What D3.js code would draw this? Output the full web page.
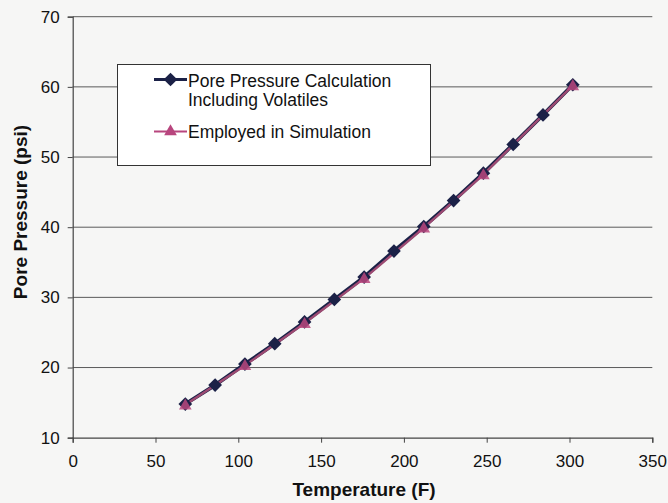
<!DOCTYPE html>
<html>
<head>
<meta charset="utf-8">
<script src="https://cdn.jsdelivr.net/npm/d3@7"></script>
<style>
  html, body { margin: 0; padding: 0; background: #f6f6f5; }
  svg { display: block; }
  text { font-family: "Liberation Sans", Arial, sans-serif; fill: #111; }
</style>
</head>
<body>
<svg id="chart" width="668" height="503"></svg>
<script>
// Data
const temperatures = [68, 86, 104, 122, 140, 158, 176, 194, 212, 230, 248, 266, 284, 302];
const porePressureVolatiles = [14.8, 17.5, 20.5, 23.4, 26.5, 29.7, 32.9, 36.6, 40.1, 43.8, 47.7, 51.8, 56.0, 60.3];
const simTemperatures = [68, 104, 140, 176, 212, 248, 302];
const simPressure = [14.7, 20.3, 26.3, 32.7, 39.9, 47.5, 60.2];
const xTicks = [0, 50, 100, 150, 200, 250, 300, 350];
const yTicks = [10, 20, 30, 40, 50, 60, 70];
const seriesNames = ["Pore Pressure Calculation|Including Volatiles", "Employed in Simulation"];

const svg = d3.select("#chart");
const x = d3.scaleLinear().domain([0, 350]).range([72.7, 652.3]);
const y = d3.scaleLinear().domain([10, 70]).range([437.7, 16.7]);

const darkColor = "#1b2147";
const pinkColor = "#b8467e";

// gridlines
svg.append("g").selectAll("line").data(yTicks.filter(d => d > 10)).join("line")
  .attr("x1", x(0)).attr("x2", x(350))
  .attr("y1", d => y(d)).attr("y2", d => y(d))
  .attr("stroke", "#5a5a5a").attr("stroke-width", 1);

// axes
const xAxis = svg.append("g").attr("transform", `translate(0,${y(10)})`)
  .call(d3.axisBottom(x).tickValues(xTicks).tickSize(5).tickPadding(12).tickFormat(d3.format("d")));
const yAxis = svg.append("g").attr("transform", `translate(${x(0)},0)`)
  .call(d3.axisLeft(y).tickValues(yTicks).tickSize(5).tickPadding(8).tickFormat(d3.format("d")));
[xAxis, yAxis].forEach(g => {
  g.select(".domain").attr("stroke", "#444").attr("stroke-width", 1.2);
  g.selectAll(".tick line").attr("stroke", "#444");
  g.selectAll("text").attr("font-size", 17).attr("fill", "#111")
    .attr("font-family", "'Liberation Sans', Arial, sans-serif");
});

// axis titles
svg.append("text").attr("x", 364).attr("y", 496).attr("text-anchor", "middle")
  .attr("font-size", 19).attr("font-weight", "bold").text("Temperature (F)");
svg.append("text").attr("transform", `translate(27,212) rotate(-90)`)
  .attr("text-anchor", "middle").attr("font-size", 19).attr("font-weight", "bold")
  .text("Pore Pressure (psi)");

// series
const line = d3.line().x(d => x(d[0])).y(d => y(d[1]));
const s1 = temperatures.map((t, i) => [t, porePressureVolatiles[i]]);
const s2 = simTemperatures.map((t, i) => [t, simPressure[i]]);

svg.append("path").datum(s1).attr("d", line).attr("fill", "none")
  .attr("stroke", darkColor).attr("stroke-width", 3.8);
svg.append("path").datum(s2).attr("d", line).attr("fill", "none")
  .attr("stroke", "#9c4a72").attr("stroke-width", 2.4);

const diamond = d3.symbol().type(d3.symbolDiamond2).size(120);
const triangle = d3.symbol().type(d3.symbolTriangle).size(70);

svg.append("g").selectAll("path").data(s1).join("path")
  .attr("d", diamond).attr("transform", d => `translate(${x(d[0])},${y(d[1])})`)
  .attr("fill", darkColor);
svg.append("g").selectAll("path").data(s2).join("path")
  .attr("d", triangle).attr("transform", d => `translate(${x(d[0])},${y(d[1]) + 1})`)
  .attr("fill", pinkColor).attr("opacity", 0.85);

// legend
const lg = svg.append("g");
lg.append("rect").attr("x", 117.5).attr("y", 64.5).attr("width", 313).attr("height", 101)
  .attr("fill", "#fff").attr("stroke", "#333").attr("stroke-width", 1);
// entry 1
lg.append("line").attr("x1", 154).attr("x2", 187).attr("y1", 79.5).attr("y2", 79.5)
  .attr("stroke", darkColor).attr("stroke-width", 3);
lg.append("path").attr("d", diamond).attr("transform", "translate(170.5,79.5)").attr("fill", darkColor);
const names1 = seriesNames[0].split("|");
lg.append("text").attr("x", 188).attr("y", 87).attr("font-size", 17.5).text(names1[0]);
lg.append("text").attr("x", 188).attr("y", 106).attr("font-size", 17.5).text(names1[1]);
// entry 2
lg.append("line").attr("x1", 154).attr("x2", 187).attr("y1", 131.5).attr("y2", 131.5)
  .attr("stroke", pinkColor).attr("stroke-width", 2);
lg.append("path").attr("d", triangle).attr("transform", "translate(170.5,131.5)").attr("fill", pinkColor);
lg.append("text").attr("x", 188).attr("y", 138).attr("font-size", 17.5).text(seriesNames[1]);
</script>
</body>
</html>
